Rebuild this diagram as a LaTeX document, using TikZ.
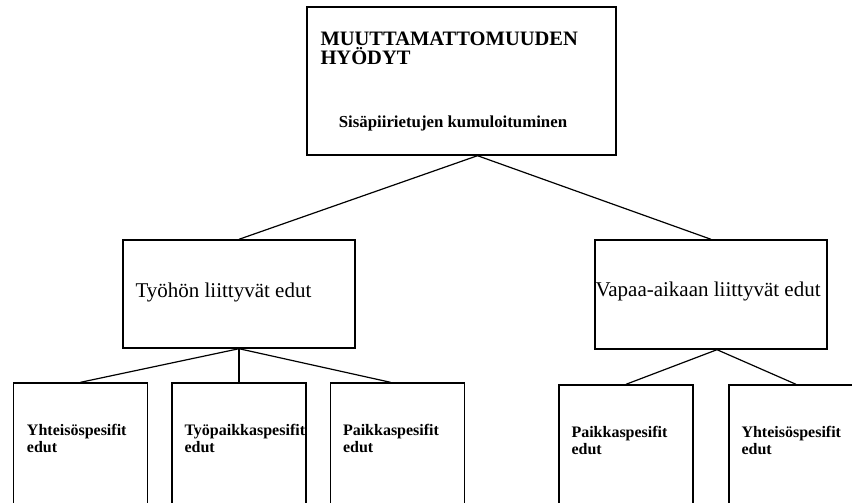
\documentclass[tikz,border=0pt]{standalone}
\usepackage{fontspec}
\setmainfont{Liberation Serif}
\usetikzlibrary{positioning,calc}

\begin{document}
\begin{tikzpicture}[
    x=1pt, y=-1pt,
    box/.style={rectangle, draw, line width=1.4pt, inner sep=0pt},
    leaf/.style={box, minimum width=134pt, minimum height=137pt},
    boxtext/.style={inner sep=0pt, anchor=base west, align=left},
    headtext/.style={boxtext, font=\fontsize{20.5}{19}\selectfont\bfseries},
    midtext/.style={boxtext, font=\fontsize{21}{22}\selectfont},
    leaftext/.style={boxtext, font=\fontsize{16}{16.5}\selectfont\bfseries},
    link/.style={line width=1.2pt}
]
    \useasboundingbox (0,0) rectangle (852,503);
    \clip (0,0) rectangle (852,503);
    \fill[white] (0,0) rectangle (852,503);

    % Top
    \node[box, minimum width=309pt, minimum height=148pt] (top) at (461.5,81) {};
    \node[headtext] (toptitle) at ($(top.north west)+(14,58)$) {MUUTTAMATTOMUUDEN\\HYÖDYT};
    \node[leaftext, anchor=base, font=\fontsize{16.8}{17}\selectfont\bfseries] (topsub) at ($(top.north)+(-8.5,121)$) {Sisäpiirietujen kumuloituminen};

    % Middle
    \node[box, minimum width=232pt, minimum height=108pt] (work) at (239,294) {};
    \node[box, minimum width=232pt, minimum height=109pt] (free) at (711,294.5) {};
    \node[midtext] (worktext) at ($(work.north west)+(13,58)$) {Työhön liittyvät edut};
    \node[midtext] (freetext) at ($(free.north west)+(1,57)$) {Vapaa-aikaan liittyvät edut};

    % Leaves
    \node[leaf] (comm1) at (80.5,451.5) {};
    \node[leaf] (job) at (239,451.5) {};
    \node[leaf] (place1) at (397.5,451.5) {};
    \node[leaf] (place2) at (626,453.5) {};
    \node[leaf] (comm2) at (796,453.5) {};
    \node[leaftext] (comm1text) at ($(comm1.north west)+(14,70)$) {Yhteisöspesifit\\edut};
    \node[leaftext] (jobtext) at ($(job.north west)+(13,70)$) {Työpaikkaspesifit\\edut};
    \node[leaftext] (place1text) at ($(place1.north west)+(13,70)$) {Paikkaspesifit\\edut};
    \node[leaftext] (place2text) at ($(place2.north west)+(13,70)$) {Paikkaspesifit\\edut};
    \node[leaftext] (comm2text) at ($(comm2.north west)+(13,70)$) {Yhteisöspesifit\\edut};

    % Links
    \coordinate (topfork) at ([xshift=16pt]top.south);
    \draw[link] (topfork) -- (work.north);
    \draw[link] (topfork) -- (free.north);
    \draw[link] (work.south) -- (comm1.north);
    \draw[link] (work.south) -- (job.north);
    \draw[link] (work.south) -- ([xshift=-7pt]place1.north);
    \draw[link] ([xshift=6pt]free.south) -- (place2.north);
    \draw[link] ([xshift=6pt]free.south) -- (comm2.north);

\end{tikzpicture}
\end{document}
